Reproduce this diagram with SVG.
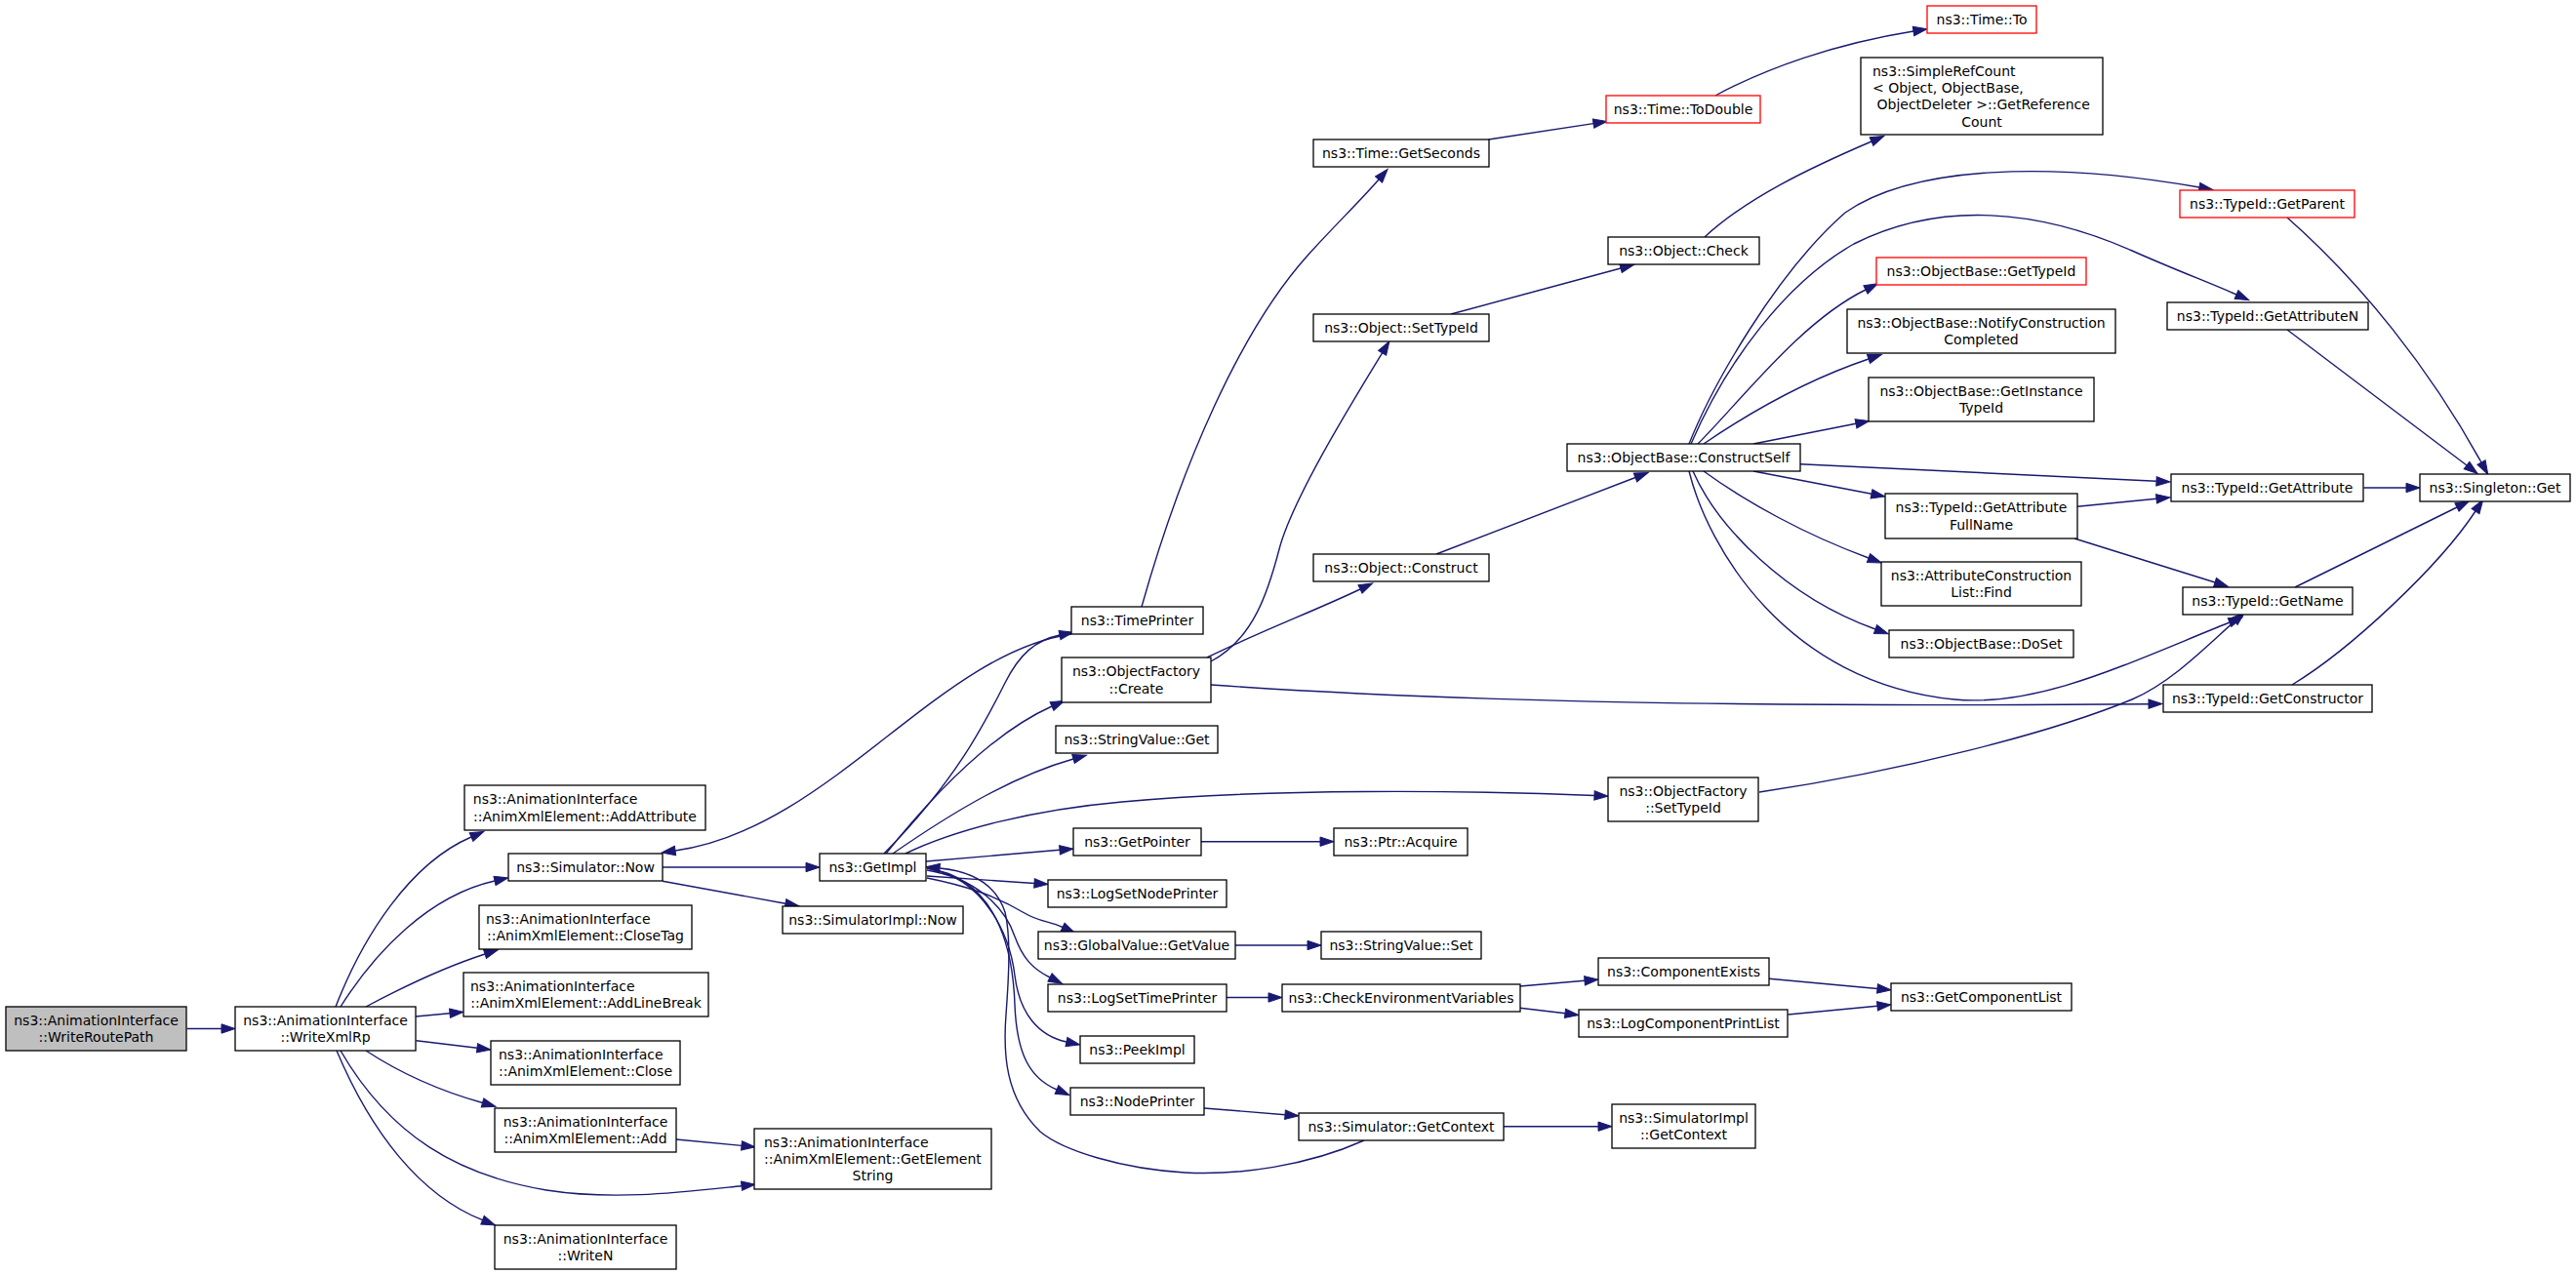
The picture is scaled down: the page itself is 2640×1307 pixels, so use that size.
<svg xmlns="http://www.w3.org/2000/svg" width="2640" height="1307" viewBox="0 0 2640 1307">
<defs>
<style>
.n rect{fill:#fff;stroke:#000;stroke-width:1.3}
.r rect{stroke:#f00}
.h rect{fill:#bfbfbf}
text{font-family:"DejaVu Sans","Liberation Sans",sans-serif;font-size:14px;fill:#000;text-anchor:middle}
text.l{text-anchor:start}
.e path{fill:none;stroke:#191970;stroke-width:1.4;marker-end:url(#a)}
</style>
<marker id="a" viewBox="0 0 14 10" refX="0" refY="5" markerWidth="14" markerHeight="10" markerUnits="userSpaceOnUse" orient="auto" overflow="visible"><path d="M0,0.3L14,5L0,9.7z" fill="#191970" stroke="#191970" stroke-width="1"/></marker>
</defs>
<rect width="2640" height="1307" fill="#fff"/>
<g id="edges" class="e">
<path d="M191.5,1054.5 L227,1054.5"/>
<path d="M344,1032 C372,960 420,885 483,858"/>
<path d="M349,1032 C385,975 440,918 507,903"/>
<path d="M375,1032 C420,1008 460,990 497,978"/>
<path d="M426,1042 L461,1038.7"/>
<path d="M426.5,1066.7 L489,1074.3"/>
<path d="M375,1077 C410,1100 450,1118 494.5,1130.5"/>
<path d="M349,1077 C400,1165 470,1205 560,1220 C630,1231 700,1222 760,1215.7"/>
<path d="M345,1077 C380,1160 430,1225 494.5,1250.7"/>
<path d="M693,1168 L760,1174.4"/>
<path d="M679,889 L826,889"/>
<path d="M679,903.3 L805,926.2"/>
<path d="M1098,650 C960,670 850,850 692,872"/>
<path d="M906,875 C980,800 1010,740 1030,700 C1045,670 1062,656 1086,651"/>
<path d="M908,875 C960,810 1020,750 1078,724"/>
<path d="M915,875 C980,830 1040,795 1100,778"/>
<path d="M928,875 C980,850 1060,830 1150,822 C1300,808 1500,810 1634,815.5"/>
<path d="M949,883 L1086,871.3"/>
<path d="M950,898 L1060,905.5"/>
<path d="M950,900 C990,908 1020,918 1050,936 C1065,945 1075,944 1089,950.5"/>
<path d="M950,892 C1000,900 1030,930 1040,960 C1048,982 1058,993 1076,1002"/>
<path d="M950,890 C1010,900 1035,960 1040,1000 C1045,1040 1065,1062 1093,1068"/>
<path d="M950,890 C1020,900 1038,970 1040,1030 C1042,1080 1055,1105 1083,1117"/>
<path d="M1398,1169 C1340,1195 1270,1205 1214,1202 C1150,1198 1090,1180 1066,1160 C1030,1125 1028,1080 1031,1040 C1034,1000 1036,960 1030,935 C1020,905 995,893 963,890"/>
<path d="M1230.6,862.7 L1353,862.7"/>
<path d="M1266,969 L1340,969"/>
<path d="M1256.6,1022.5 L1300,1022.5"/>
<path d="M1557.6,1011 L1624,1005.3"/>
<path d="M1557.6,1033.3 L1604,1038.8"/>
<path d="M1813,1003.3 L1924,1013.5"/>
<path d="M1832.5,1040 L1924,1031.3"/>
<path d="M1234,1136 L1317,1142.7"/>
<path d="M1541,1154.7 L1638,1154.7"/>
<path d="M1237,674 C1290,648 1350,625 1394,604"/>
<path d="M1241,678 C1285,655 1300,605 1311,563 C1324,512.6 1385.4,412.8 1416.6,361.8"/>
<path d="M1170,622 C1210,480 1270,340 1340,262 C1365,234 1395,205 1413,184"/>
<path d="M1525.5,143 L1633,126.6"/>
<path d="M1758,98 C1810,70 1880,45 1961,32"/>
<path d="M1487,322 L1661,275"/>
<path d="M1747,243 C1790,203 1855,172 1918,145"/>
<path d="M1472,568 L1676,489.5"/>
<path d="M1731,455 C1755,395 1820,280 1891,218 C1960,170 2100,165 2254,192"/>
<path d="M1733,455 C1770,370 1830,290 1900,250 C1990,205 2090,215 2185,257 C2230,277 2265,290 2292,302"/>
<path d="M1740,455 C1785,410 1845,330 1912,297"/>
<path d="M1746,455 C1790,425 1850,390 1915,368"/>
<path d="M1797,455 L1902,434.3"/>
<path d="M1844.5,475.7 L2210,493.3"/>
<path d="M1797,483 L1918,506.3"/>
<path d="M1746,483 C1790,515 1850,548 1915,572"/>
<path d="M1735,483 C1760,540 1830,612 1922,645"/>
<path d="M1731,483 C1750,560 1830,700 2003,717 C2090,725 2180,680 2285,638"/>
<path d="M2129,519.3 L2210,511.3"/>
<path d="M2126,552 L2270,597"/>
<path d="M2422.4,500 L2466,500"/>
<path d="M2352,602 L2518,520"/>
<path d="M2349,702 C2410,665 2500,580 2537,524"/>
<path d="M2344,223 C2420,290 2490,378 2543,474"/>
<path d="M2344,338 L2528,477"/>
<path d="M1803,812 C1950,790 2100,752 2185,717 C2225,700 2262,662 2290,637"/>
<path d="M1241,702 C1500,720 1800,725 2202,721.7"/>
</g>
<g id="n1" class="n h"><rect x="6" y="1032" width="185" height="45"/><text x="98.5" y="1050.9">ns3::AnimationInterface</text><text x="98.5" y="1068.2">::WriteRoutePath</text></g>
<g id="n2" class="n"><rect x="241" y="1032" width="185" height="45"/><text x="333.5" y="1050.9">ns3::AnimationInterface</text><text x="333.5" y="1068.2">::WriteXmlRp</text></g>
<g id="n3" class="n"><rect x="476" y="805" width="247" height="46"/><text class="l" x="484.8" y="824.4">ns3::AnimationInterface</text><text x="599.5" y="841.7">::AnimXmlElement::AddAttribute</text></g>
<g id="n4" class="n"><rect x="521" y="875" width="158" height="28"/><text x="600" y="894">ns3::Simulator::Now</text></g>
<g id="n5" class="n"><rect x="491" y="928" width="218" height="45"/><text class="l" x="498" y="946.9">ns3::AnimationInterface</text><text x="600" y="964.2">::AnimXmlElement::CloseTag</text></g>
<g id="n6" class="n"><rect x="475" y="997" width="251" height="45"/><text class="l" x="482" y="1015.9">ns3::AnimationInterface</text><text x="600.5" y="1033.2">::AnimXmlElement::AddLineBreak</text></g>
<g id="n7" class="n"><rect x="503" y="1067" width="194" height="45"/><text class="l" x="511" y="1085.9">ns3::AnimationInterface</text><text x="600" y="1103.2">::AnimXmlElement::Close</text></g>
<g id="n8" class="n"><rect x="507" y="1136" width="186" height="45"/><text x="600" y="1154.9">ns3::AnimationInterface</text><text x="600" y="1172.2">::AnimXmlElement::Add</text></g>
<g id="n9" class="n"><rect x="507" y="1256" width="186" height="45"/><text x="600" y="1274.9">ns3::AnimationInterface</text><text x="600" y="1292.2">::WriteN</text></g>
<g id="n10" class="n"><rect x="773" y="1157" width="243" height="62"/><text class="l" x="783" y="1175.7">ns3::AnimationInterface</text><text class="l" x="783" y="1193">::AnimXmlElement::GetElement</text><text x="894.5" y="1210.3">String</text></g>
<g id="n11" class="n"><rect x="840" y="875" width="109" height="28"/><text x="894.5" y="894">ns3::GetImpl</text></g>
<g id="n12" class="n"><rect x="802" y="929" width="185" height="28"/><text x="894.5" y="948">ns3::SimulatorImpl::Now</text></g>
<g id="n13" class="n"><rect x="1098" y="622" width="135" height="28"/><text x="1165.5" y="641">ns3::TimePrinter</text></g>
<g id="n14" class="n"><rect x="1088" y="674" width="153" height="46"/><text x="1164.5" y="693.4">ns3::ObjectFactory</text><text x="1164.5" y="710.7">::Create</text></g>
<g id="n15" class="n"><rect x="1082" y="744" width="166" height="28"/><text x="1165" y="763">ns3::StringValue::Get</text></g>
<g id="n16" class="n"><rect x="1648" y="797" width="154" height="45"/><text x="1725" y="815.9">ns3::ObjectFactory</text><text x="1725" y="833.2">::SetTypeId</text></g>
<g id="n17" class="n"><rect x="1100" y="849" width="131" height="28"/><text x="1165.5" y="868">ns3::GetPointer</text></g>
<g id="n18" class="n"><rect x="1367" y="849" width="137" height="28"/><text x="1435.5" y="868">ns3::Ptr::Acquire</text></g>
<g id="n19" class="n"><rect x="1074" y="902" width="183" height="28"/><text x="1165.5" y="921">ns3::LogSetNodePrinter</text></g>
<g id="n20" class="n"><rect x="1064" y="955" width="202" height="28"/><text x="1165" y="974">ns3::GlobalValue::GetValue</text></g>
<g id="n21" class="n"><rect x="1354" y="955" width="164" height="28"/><text x="1436" y="974">ns3::StringValue::Set</text></g>
<g id="n22" class="n"><rect x="1074" y="1009" width="183" height="28"/><text x="1165.5" y="1028">ns3::LogSetTimePrinter</text></g>
<g id="n23" class="n"><rect x="1314" y="1009" width="244" height="28"/><text x="1436" y="1028">ns3::CheckEnvironmentVariables</text></g>
<g id="n24" class="n"><rect x="1638" y="982" width="175" height="28"/><text x="1725.5" y="1001">ns3::ComponentExists</text></g>
<g id="n25" class="n"><rect x="1618" y="1035" width="214" height="28"/><text x="1725" y="1054">ns3::LogComponentPrintList</text></g>
<g id="n26" class="n"><rect x="1938" y="1008" width="185" height="28"/><text x="2030.5" y="1027">ns3::GetComponentList</text></g>
<g id="n27" class="n"><rect x="1107" y="1062" width="117" height="28"/><text x="1165.5" y="1081">ns3::PeekImpl</text></g>
<g id="n28" class="n"><rect x="1097" y="1115" width="137" height="28"/><text x="1165.5" y="1134">ns3::NodePrinter</text></g>
<g id="n29" class="n"><rect x="1331" y="1141" width="210" height="28"/><text x="1436" y="1160">ns3::Simulator::GetContext</text></g>
<g id="n30" class="n"><rect x="1652" y="1132" width="147" height="45"/><text x="1725.5" y="1150.9">ns3::SimulatorImpl</text><text x="1725.5" y="1168.2">::GetContext</text></g>
<g id="n31" class="n"><rect x="1346" y="143" width="180" height="28"/><text x="1436" y="162">ns3::Time::GetSeconds</text></g>
<g id="n32" class="n r"><rect x="1646" y="98" width="158" height="28"/><text x="1725" y="117">ns3::Time::ToDouble</text></g>
<g id="n33" class="n r"><rect x="1975" y="6" width="112" height="28"/><text x="2031" y="25">ns3::Time::To</text></g>
<g id="n34" class="n"><rect x="1346" y="322" width="180" height="28"/><text x="1436" y="341">ns3::Object::SetTypeId</text></g>
<g id="n35" class="n"><rect x="1648" y="243" width="155" height="28"/><text x="1725.5" y="262">ns3::Object::Check</text></g>
<g id="n36" class="n"><rect x="1907" y="59" width="248" height="79"/><text class="l" x="1919" y="77.6">ns3::SimpleRefCount</text><text class="l" x="1919" y="94.9">&lt; Object, ObjectBase,</text><text class="l" x="1923.5" y="112.2">ObjectDeleter &gt;::GetReference</text><text x="2031" y="129.5">Count</text></g>
<g id="n37" class="n r"><rect x="1923" y="264" width="215" height="28"/><text x="2030.5" y="283">ns3::ObjectBase::GetTypeId</text></g>
<g id="n38" class="n"><rect x="1893" y="317" width="275" height="45"/><text x="2030.5" y="335.9">ns3::ObjectBase::NotifyConstruction</text><text x="2030.5" y="353.2">Completed</text></g>
<g id="n39" class="n"><rect x="1915" y="387" width="231" height="45"/><text x="2030.5" y="405.9">ns3::ObjectBase::GetInstance</text><text x="2030.5" y="423.2">TypeId</text></g>
<g id="n40" class="n"><rect x="1606" y="455" width="239" height="28"/><text x="1725.5" y="474">ns3::ObjectBase::ConstructSelf</text></g>
<g id="n41" class="n r"><rect x="2234" y="195" width="179" height="28"/><text x="2323.5" y="214">ns3::TypeId::GetParent</text></g>
<g id="n42" class="n"><rect x="2221" y="310" width="206" height="28"/><text x="2324" y="329">ns3::TypeId::GetAttributeN</text></g>
<g id="n43" class="n"><rect x="1346" y="568" width="180" height="28"/><text x="1436" y="587">ns3::Object::Construct</text></g>
<g id="n44" class="n"><rect x="2225" y="486" width="197" height="28"/><text x="2323.5" y="505">ns3::TypeId::GetAttribute</text></g>
<g id="n45" class="n"><rect x="2480" y="486" width="154" height="28"/><text x="2557" y="505">ns3::Singleton::Get</text></g>
<g id="n46" class="n"><rect x="1932" y="506" width="197" height="46"/><text x="2030.5" y="525.4">ns3::TypeId::GetAttribute</text><text x="2030.5" y="542.7">FullName</text></g>
<g id="n47" class="n"><rect x="1928" y="576" width="205" height="45"/><text x="2030.5" y="594.9">ns3::AttributeConstruction</text><text x="2030.5" y="612.2">List::Find</text></g>
<g id="n48" class="n"><rect x="2237" y="602" width="174" height="28"/><text x="2324" y="621">ns3::TypeId::GetName</text></g>
<g id="n49" class="n"><rect x="1936" y="646" width="189" height="28"/><text x="2030.5" y="665">ns3::ObjectBase::DoSet</text></g>
<g id="n50" class="n"><rect x="2217" y="702" width="214" height="28"/><text x="2324" y="721">ns3::TypeId::GetConstructor</text></g>
</svg>
